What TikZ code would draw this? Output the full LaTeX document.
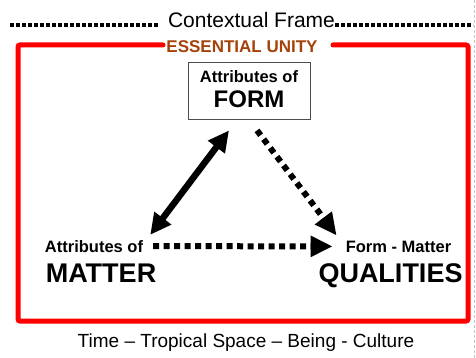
\documentclass[tikz,border=0pt]{standalone}
\usepackage{fontspec}
\setmainfont{Liberation Sans}
\usetikzlibrary{arrows.meta}
\definecolor{unitybrown}{RGB}{165,66,10}

\begin{document}
\begin{tikzpicture}[x=1pt,y=-1pt,
    txt/.style={inner sep=0pt,anchor=base},
    small/.style={txt,font=\fontsize{16.5}{18}\selectfont\bfseries},
    big/.style={txt,font=\fontsize{27}{30}\selectfont\bfseries},
    dots/.style={line width=3.5pt,dash pattern=on 3.5pt off 2.5pt},
    bigdots/.style={line width=6pt,dash pattern=on 6pt off 4.5pt},
    head/.style={-{Triangle[length=22pt,width=20pt]}}]
    \useasboundingbox (0,0) rectangle (476,358);
    % frames
    \draw[gray!45,line width=0.8pt,dash pattern=on 3pt off 2pt] (474.5,0) -- (474.5,358);
    \node[txt,font=\fontsize{21}{24}\selectfont] (ctx) at (251.5,28) {Contextual Frame};
    \draw[dots] (10,25) -- (158,25) (335,25) -- (473,25);
    \draw[red,line width=5pt,line cap=round,rounded corners=2pt]
        (163,45) -- (18,45) -- (18,321) -- (468,321) -- (468,45) -- (333,45);
    \node[txt,text=unitybrown,font=\fontsize{17}{20}\selectfont\bfseries] (unity) at (242,53) {ESSENTIAL UNITY};
    \node[txt,font=\fontsize{19}{22}\selectfont] (ctxlist) at (246,347) {Time – Tropical Space – Being - Culture};

    % the three corners
    \node[draw=gray!60!black,line width=0.8pt,minimum width=122pt,minimum height=57pt,inner sep=0pt] (form) at (249,90.5) {};
    \node[small] (formlbl) at (249,83) {Attributes of};
    \node[txt,font=\fontsize{24}{26}\selectfont\bfseries] (formtxt) at (249,108) {FORM};
    \node[small] (matterlbl) at (94,252) {Attributes of};
    \node[big]   (matter)    at (101,282) {MATTER};
    \node[small] (fmlbl)     at (398.5,252) {Form - Matter};
    \node[big]   (qual)      at (390.5,282) {QUALITIES};

    \draw[line width=6.5pt,{Triangle[length=21pt,width=20pt]}-{Triangle[length=21pt,width=20pt]}]
        ([xshift=-20pt,yshift=-11pt]form.south) -- ([xshift=7pt,yshift=5pt]matterlbl.north east);
    \draw[bigdots,dash pattern=on 6pt off 5pt,head]
        ([xshift=8pt,yshift=-11pt]form.south) -- ([xshift=-9pt,yshift=5pt]fmlbl.north west);
    \draw[bigdots,head] ([xshift=10pt]matterlbl.east) -- ([xshift=-13pt]fmlbl.west);
\end{tikzpicture}
\end{document}
